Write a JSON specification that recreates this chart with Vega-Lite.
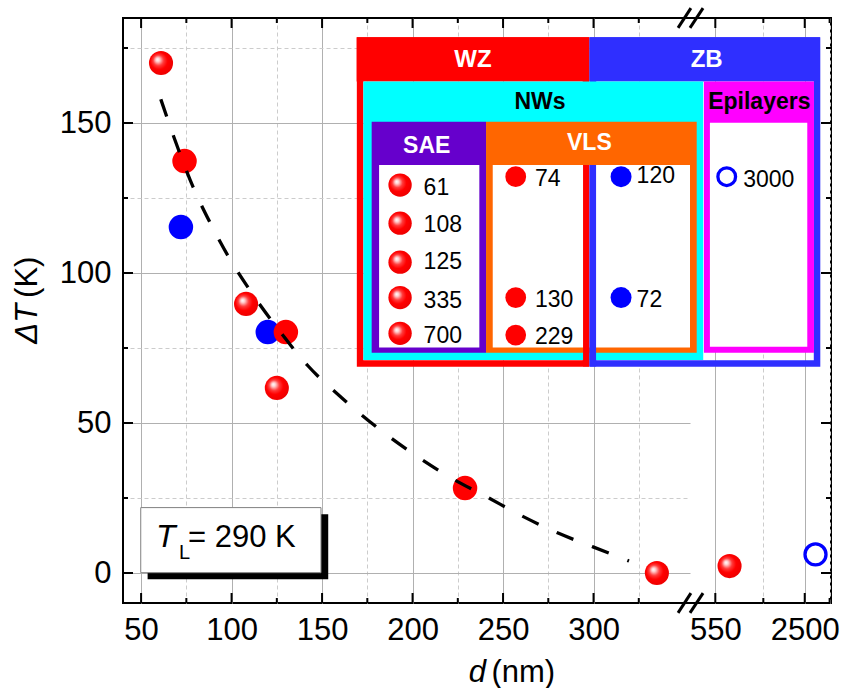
{
  "$schema": "https://vega.github.io/schema/vega-lite/v6.json",
  "width": 708,
  "height": 585,
  "autosize": "none",
  "padding": {"left": 123, "top": 18, "right": 12, "bottom": 85},
  "background": "white",
  "config": {
    "font": "Liberation Sans",
    "view": {"stroke": "#000000", "strokeWidth": 2},
    "axis": {"domain": false, "ticks": false, "labelFont": "Liberation Sans", "labelFontSize": 31, "labelColor": "#000000", "labelFlush": false, "labelOverlap": false, "gridWidth": 1}
  },
  "datasets": {
    "points": [
      {"d": 61, "dT": 170, "phase": "WZ", "method": "SAE"},
      {"d": 108, "dT": 89.7, "phase": "WZ", "method": "SAE"},
      {"d": 125, "dT": 61.7, "phase": "WZ", "method": "SAE"},
      {"d": 335, "dT": 0, "phase": "WZ", "method": "SAE"},
      {"d": 700, "dT": 2.3, "phase": "WZ", "method": "SAE"},
      {"d": 74, "dT": 137.3, "phase": "WZ", "method": "VLS"},
      {"d": 130, "dT": 80.3, "phase": "WZ", "method": "VLS"},
      {"d": 229, "dT": 28.3, "phase": "WZ", "method": "VLS"},
      {"d": 120, "dT": 80.3, "phase": "ZB", "method": "VLS"},
      {"d": 72, "dT": 115.3, "phase": "ZB", "method": "VLS"},
      {"d": 3000, "dT": 6.2, "phase": "ZB", "method": "Epilayer"}
    ],
    "curve": [
      {"d": 60.9, "dT": 157.9}, {"d": 67.7, "dT": 146}, {"d": 78.7, "dT": 128.7},
      {"d": 88.1, "dT": 116.8}, {"d": 98.8, "dT": 104.9}, {"d": 111.2, "dT": 93.3},
      {"d": 125.7, "dT": 81.3}, {"d": 142.3, "dT": 69}, {"d": 162.2, "dT": 57.7},
      {"d": 181.7, "dT": 47.9}, {"d": 201.4, "dT": 39.3}, {"d": 221.3, "dT": 31.7},
      {"d": 241.2, "dT": 25.3}, {"d": 260.5, "dT": 19}, {"d": 280.4, "dT": 13.3},
      {"d": 299.7, "dT": 8.7}, {"d": 319.6, "dT": 4}
    ],
    "xticks": [
      {"v": 50, "k": "major"}, {"v": 75, "k": "minor"}, {"v": 100, "k": "major"}, {"v": 125, "k": "minor"},
      {"v": 150, "k": "major"}, {"v": 175, "k": "minor"}, {"v": 200, "k": "major"}, {"v": 225, "k": "minor"},
      {"v": 250, "k": "major"}, {"v": 275, "k": "minor"}, {"v": 300, "k": "major"}, {"v": 325, "k": "minor"}
    ],
    "xticksR": [
      {"v": 550, "k": "major"}, {"v": 1240, "k": "minor"}, {"v": 2500, "k": "major"}, {"v": 3810, "k": "minor"}
    ],
    "yticks": [
      {"v": 0, "k": "major"}, {"v": 25, "k": "minor"}, {"v": 50, "k": "major"}, {"v": 75, "k": "minor"},
      {"v": 100, "k": "major"}, {"v": 125, "k": "minor"}, {"v": 150, "k": "major"}, {"v": 175, "k": "minor"}
    ],
    "frames": [
      {"part": "WZ", "x1": 171.0, "x2": 295.8, "y1": 177.5, "y2": 69.8},
      {"part": "ZB", "x1": 299.7, "x2": 423.5, "y1": 177.5, "y2": 69.8}
    ],
    "boxes": [
      {"part": "WZ head", "x1": 169.1, "x2": 297.7, "y1": 178.6, "y2": 163.8},
      {"part": "ZB head", "x1": 297.7, "x2": 425.1, "y1": 178.6, "y2": 163.8},
      {"part": "NWs", "x1": 172.8, "x2": 360.6, "y1": 163.8, "y2": 71},
      {"part": "Epilayers", "x1": 361.0, "x2": 421.8, "y1": 163.8, "y2": 73.4},
      {"part": "Epilayers body", "x1": 364.3, "x2": 418.1, "y1": 150.1, "y2": 75.4},
      {"part": "SAE", "x1": 177.4, "x2": 240.6, "y1": 150.4, "y2": 73.4},
      {"part": "SAE body", "x1": 181.5, "x2": 236.9, "y1": 136, "y2": 75.2},
      {"part": "VLS", "x1": 240.6, "x2": 357.0, "y1": 150.4, "y2": 73.4},
      {"part": "VLS body", "x1": 244.3, "x2": 353.3, "y1": 136, "y2": 75.2},
      {"part": "WZ edge", "x1": 294.2, "x2": 297.7, "y1": 136, "y2": 68.8},
      {"part": "ZB edge", "x1": 297.7, "x2": 301.4, "y1": 136, "y2": 68.8}
    ],
    "keys": [
      {"label": "61", "method": "SAE", "phase": "WZ", "x": 193.1, "y": 129.3, "lx": 206.1, "ly": 128.4},
      {"label": "108", "method": "SAE", "phase": "WZ", "x": 193.1, "y": 116.6, "lx": 206.1, "ly": 116.0},
      {"label": "125", "method": "SAE", "phase": "WZ", "x": 193.1, "y": 103.6, "lx": 206.1, "ly": 103.7},
      {"label": "335", "method": "SAE", "phase": "WZ", "x": 193.1, "y": 91.8, "lx": 206.1, "ly": 90.6},
      {"label": "700", "method": "SAE", "phase": "WZ", "x": 193.1, "y": 79.9, "lx": 206.1, "ly": 79.0},
      {"label": "74", "method": "VLS", "phase": "WZ", "x": 257.0, "y": 132.1, "lx": 267.6, "ly": 131.3},
      {"label": "130", "method": "VLS", "phase": "WZ", "x": 257.0, "y": 91.8, "lx": 267.6, "ly": 90.9},
      {"label": "229", "method": "VLS", "phase": "WZ", "x": 257.0, "y": 79.3, "lx": 267.6, "ly": 78.6},
      {"label": "120", "method": "VLS", "phase": "ZB", "x": 315.2, "y": 132.1, "lx": 323.8, "ly": 132.3},
      {"label": "72", "method": "VLS", "phase": "ZB", "x": 315.2, "y": 91.8, "lx": 323.8, "ly": 91.0},
      {"label": "3000", "method": "Epilayer", "phase": "ZB", "x": 373.6, "y": 132.1, "lx": 382.7, "ly": 131.0}
    ],
    "tl": [
      {"part": "shadow", "x1": 53.6, "x2": 153.4, "y1": 19.6, "y2": -2.1},
      {"part": "box", "x1": 49.8, "x2": 149.4, "y1": 21.8, "y2": 0.1}
    ],
    "breaks": [
      {"x1": 346.7, "x2": 353.8, "y1": -13.3, "y2": -6.7},
      {"x1": 353.3, "x2": 360.5, "y1": -13.3, "y2": -6.7},
      {"x1": 346.7, "x2": 353.8, "y1": 181.7, "y2": 188.3},
      {"x1": 353.3, "x2": 360.5, "y1": 181.7, "y2": 188.3}
    ]
  },
  "resolve": {"scale": {"x": "independent", "y": "independent"}},
  "layer": [
    {
      "data": {"name": "xticks"},
      "transform": [{"filter": "datum.k == 'major'"}],
      "mark": {"type": "rule", "color": "#000000", "strokeWidth": 2, "y2Offset": -10},
      "encoding": {
        "x": {"field": "v", "type": "quantitative", "scale": {"type": "linear", "domain": [40, 353.3], "range": [0, 567], "nice": false, "zero": false},
          "axis": {"orient": "bottom", "title": null, "values": [50, 100, 150, 200, 250, 300], "labelPadding": 12, "grid": true, "gridColor": "#b0b0b0"}},
        "y": {"datum": -10, "type": "quantitative", "scale": {"type": "linear", "domain": [-10, 185], "nice": false, "zero": false}, "axis": null},
        "y2": {"datum": -10}
      }
    },
    {
      "data": {"name": "xticks"},
      "transform": [{"filter": "datum.k == 'minor'"}],
      "mark": {"type": "rule", "color": "#000000", "strokeWidth": 2, "y2Offset": -5},
      "encoding": {
        "x": {"field": "v", "type": "quantitative", "scale": {"type": "linear", "domain": [40, 353.3], "range": [0, 567], "nice": false, "zero": false},
          "axis": {"orient": "bottom", "title": null, "labels": false, "values": [75, 125, 175, 225, 275, 325], "grid": true, "gridColor": "#cccccc", "gridDash": [4, 3]}},
        "y": {"datum": -10, "type": "quantitative", "scale": {"type": "linear", "domain": [-10, 185], "nice": false, "zero": false}, "axis": null},
        "y2": {"datum": -10}
      }
    },
    {
      "data": {"name": "xticks"},
      "transform": [{"filter": "datum.k == 'major'"}],
      "mark": {"type": "rule", "color": "#000000", "strokeWidth": 2, "y2Offset": 10},
      "encoding": {
        "x": {"field": "v", "type": "quantitative", "scale": {"type": "linear", "domain": [40, 353.3], "range": [0, 567], "nice": false, "zero": false}, "axis": null},
        "y": {"datum": 185, "type": "quantitative", "scale": {"type": "linear", "domain": [-10, 185], "nice": false, "zero": false}, "axis": null},
        "y2": {"datum": 185}
      }
    },
    {
      "data": {"name": "xticks"},
      "transform": [{"filter": "datum.k == 'minor'"}],
      "mark": {"type": "rule", "color": "#000000", "strokeWidth": 2, "y2Offset": 5},
      "encoding": {
        "x": {"field": "v", "type": "quantitative", "scale": {"type": "linear", "domain": [40, 353.3], "range": [0, 567], "nice": false, "zero": false}, "axis": null},
        "y": {"datum": 185, "type": "quantitative", "scale": {"type": "linear", "domain": [-10, 185], "nice": false, "zero": false}, "axis": null},
        "y2": {"datum": 185}
      }
    },
    {
      "data": {"name": "xticksR"},
      "transform": [{"filter": "datum.k == 'major'"}],
      "mark": {"type": "rule", "color": "#000000", "strokeWidth": 2, "y2Offset": -10},
      "encoding": {
        "x": {"field": "v", "type": "quantitative", "scale": {"type": "log", "domain": [358.3, 3900], "range": [567, 708], "nice": false},
          "axis": {"orient": "bottom", "title": null, "values": [550, 2500], "format": "d", "labelPadding": 12, "grid": true, "gridColor": "#b0b0b0"}},
        "y": {"datum": -10, "type": "quantitative", "scale": {"type": "linear", "domain": [-10, 185], "nice": false, "zero": false}, "axis": null},
        "y2": {"datum": -10}
      }
    },
    {
      "data": {"name": "xticksR"},
      "transform": [{"filter": "datum.k == 'minor'"}],
      "mark": {"type": "rule", "color": "#000000", "strokeWidth": 2, "y2Offset": -5},
      "encoding": {
        "x": {"field": "v", "type": "quantitative", "scale": {"type": "log", "domain": [358.3, 3900], "range": [567, 708], "nice": false},
          "axis": {"orient": "bottom", "title": null, "labels": false, "values": [1240, 3810], "grid": true, "gridColor": "#cccccc", "gridDash": [4, 3]}},
        "y": {"datum": -10, "type": "quantitative", "scale": {"type": "linear", "domain": [-10, 185], "nice": false, "zero": false}, "axis": null},
        "y2": {"datum": -10}
      }
    },
    {
      "data": {"name": "xticksR"},
      "transform": [{"filter": "datum.k == 'major'"}],
      "mark": {"type": "rule", "color": "#000000", "strokeWidth": 2, "y2Offset": 10},
      "encoding": {
        "x": {"field": "v", "type": "quantitative", "scale": {"type": "log", "domain": [358.3, 3900], "range": [567, 708], "nice": false}, "axis": null},
        "y": {"datum": 185, "type": "quantitative", "scale": {"type": "linear", "domain": [-10, 185], "nice": false, "zero": false}, "axis": null},
        "y2": {"datum": 185}
      }
    },
    {
      "data": {"name": "xticksR"},
      "transform": [{"filter": "datum.k == 'minor'"}],
      "mark": {"type": "rule", "color": "#000000", "strokeWidth": 2, "y2Offset": 5},
      "encoding": {
        "x": {"field": "v", "type": "quantitative", "scale": {"type": "log", "domain": [358.3, 3900], "range": [567, 708], "nice": false}, "axis": null},
        "y": {"datum": 185, "type": "quantitative", "scale": {"type": "linear", "domain": [-10, 185], "nice": false, "zero": false}, "axis": null},
        "y2": {"datum": 185}
      }
    },
    {
      "data": {"name": "yticks"},
      "transform": [{"filter": "datum.k == 'major'"}],
      "mark": {"type": "rule", "color": "#000000", "strokeWidth": 2, "x2Offset": 10},
      "encoding": {
        "y": {"field": "v", "type": "quantitative", "scale": {"type": "linear", "domain": [-10, 185], "nice": false, "zero": false},
          "axis": {"orient": "left", "title": null, "values": [0, 50, 100, 150], "labelPadding": 12, "grid": true, "gridColor": "#b0b0b0"}},
        "x": {"datum": 40, "type": "quantitative", "scale": {"type": "linear", "domain": [40, 353.3], "range": [0, 567], "nice": false, "zero": false}, "axis": null},
        "x2": {"datum": 40}
      }
    },
    {
      "data": {"name": "yticks"},
      "transform": [{"filter": "datum.k == 'minor'"}],
      "mark": {"type": "rule", "color": "#000000", "strokeWidth": 2, "x2Offset": 5},
      "encoding": {
        "y": {"field": "v", "type": "quantitative", "scale": {"type": "linear", "domain": [-10, 185], "nice": false, "zero": false},
          "axis": {"orient": "left", "title": null, "labels": false, "values": [25, 75, 125, 175], "grid": true, "gridColor": "#cccccc", "gridDash": [4, 3]}},
        "x": {"datum": 40, "type": "quantitative", "scale": {"type": "linear", "domain": [40, 353.3], "range": [0, 567], "nice": false, "zero": false}, "axis": null},
        "x2": {"datum": 40}
      }
    },
    {
      "data": {"name": "yticks"},
      "transform": [{"filter": "datum.k == 'major'"}],
      "mark": {"type": "rule", "color": "#000000", "strokeWidth": 2, "x2Offset": -10},
      "encoding": {
        "y": {"field": "v", "type": "quantitative", "scale": {"type": "linear", "domain": [-10, 185], "nice": false, "zero": false}, "axis": null},
        "x": {"datum": 3900, "type": "quantitative", "scale": {"type": "log", "domain": [358.3, 3900], "range": [567, 708], "nice": false}, "axis": null},
        "x2": {"datum": 3900}
      }
    },
    {
      "data": {"name": "yticks"},
      "transform": [{"filter": "datum.k == 'minor'"}],
      "mark": {"type": "rule", "color": "#000000", "strokeWidth": 2, "x2Offset": -5},
      "encoding": {
        "y": {"field": "v", "type": "quantitative", "scale": {"type": "linear", "domain": [-10, 185], "nice": false, "zero": false}, "axis": null},
        "x": {"datum": 3900, "type": "quantitative", "scale": {"type": "log", "domain": [358.3, 3900], "range": [567, 708], "nice": false}, "axis": null},
        "x2": {"datum": 3900}
      }
    },
    {
      "data": {"name": "tl"},
      "transform": [{"filter": "datum.part == 'shadow'"}],
      "mark": {"type": "rect", "fill": "#000000"},
      "encoding": {
        "x": {"field": "x1", "type": "quantitative", "scale": {"type": "linear", "domain": [40, 353.3], "range": [0, 567], "nice": false, "zero": false}, "axis": null},
        "x2": {"field": "x2"},
        "y": {"field": "y1", "type": "quantitative", "scale": {"type": "linear", "domain": [-10, 185], "nice": false, "zero": false}, "axis": null},
        "y2": {"field": "y2"}
      }
    },
    {
      "data": {"name": "tl"},
      "transform": [{"filter": "datum.part == 'box'"}],
      "mark": {"type": "rect", "fill": "#ffffff", "stroke": "#808080", "strokeWidth": 1},
      "encoding": {
        "x": {"field": "x1", "type": "quantitative", "scale": {"type": "linear", "domain": [40, 353.3], "range": [0, 567], "nice": false, "zero": false}, "axis": null},
        "x2": {"field": "x2"},
        "y": {"field": "y1", "type": "quantitative", "scale": {"type": "linear", "domain": [-10, 185], "nice": false, "zero": false}, "axis": null},
        "y2": {"field": "y2"}
      }
    },
    {
      "data": {"name": "frames"},
      "mark": {"type": "rect", "filled": false, "strokeWidth": 6.5},
      "encoding": {
        "x": {"field": "x1", "type": "quantitative", "scale": {"type": "linear", "domain": [40, 353.3], "range": [0, 567], "nice": false, "zero": false}, "axis": null},
        "x2": {"field": "x2"},
        "y": {"field": "y1", "type": "quantitative", "scale": {"type": "linear", "domain": [-10, 185], "nice": false, "zero": false}, "axis": null},
        "y2": {"field": "y2"},
        "stroke": {"field": "part", "type": "nominal", "legend": null, "scale": {"domain": ["WZ", "ZB"], "range": ["#ff0000", "#2f2fff"]}}
      }
    },
    {
      "data": {"name": "boxes"},
      "mark": {"type": "rect", "stroke": null},
      "encoding": {
        "x": {"field": "x1", "type": "quantitative", "scale": {"type": "linear", "domain": [40, 353.3], "range": [0, 567], "nice": false, "zero": false}, "axis": null},
        "x2": {"field": "x2"},
        "y": {"field": "y1", "type": "quantitative", "scale": {"type": "linear", "domain": [-10, 185], "nice": false, "zero": false}, "axis": null},
        "y2": {"field": "y2"},
        "fill": {"field": "part", "type": "nominal", "legend": null,
          "scale": {"domain": ["WZ head", "ZB head", "NWs", "Epilayers", "Epilayers body", "SAE", "SAE body", "VLS", "VLS body", "WZ edge", "ZB edge"],
            "range": ["#ff0000", "#2f2fff", "#00ffff", "#ff00ff", "#ffffff", "#6600cc", "#ffffff", "#ff6600", "#ffffff", "#ff0000", "#2f2fff"]}}
      }
    },
    {
      "data": {"values": [{"text": "WZ", "x": 233.4, "y": 171.1}, {"text": "ZB", "x": 362.5, "y": 171.1}]},
      "mark": {"type": "text", "font": "Liberation Sans", "fontWeight": "bold", "fontSize": 24, "color": "#ffffff", "align": "center", "baseline": "middle"},
      "encoding": {
        "x": {"field": "x", "type": "quantitative", "scale": {"type": "linear", "domain": [40, 353.3], "range": [0, 567], "nice": false, "zero": false}, "axis": null},
        "y": {"field": "y", "type": "quantitative", "scale": {"type": "linear", "domain": [-10, 185], "nice": false, "zero": false}, "axis": null},
        "text": {"field": "text"}
      }
    },
    {
      "data": {"values": [{"text": "NWs", "x": 270.4, "y": 156.9}, {"text": "Epilayers", "x": 391.6, "y": 156.9}]},
      "mark": {"type": "text", "font": "Liberation Sans", "fontWeight": "bold", "fontSize": 23, "color": "#000000", "align": "center", "baseline": "middle"},
      "encoding": {
        "x": {"field": "x", "type": "quantitative", "scale": {"type": "linear", "domain": [40, 353.3], "range": [0, 567], "nice": false, "zero": false}, "axis": null},
        "y": {"field": "y", "type": "quantitative", "scale": {"type": "linear", "domain": [-10, 185], "nice": false, "zero": false}, "axis": null},
        "text": {"field": "text"}
      }
    },
    {
      "data": {"values": [{"text": "SAE", "x": 207.8, "y": 142.5}, {"text": "VLS", "x": 297.7, "y": 143.3}]},
      "mark": {"type": "text", "font": "Liberation Sans", "fontWeight": "bold", "fontSize": 23, "color": "#ffffff", "align": "center", "baseline": "middle"},
      "encoding": {
        "x": {"field": "x", "type": "quantitative", "scale": {"type": "linear", "domain": [40, 353.3], "range": [0, 567], "nice": false, "zero": false}, "axis": null},
        "y": {"field": "y", "type": "quantitative", "scale": {"type": "linear", "domain": [-10, 185], "nice": false, "zero": false}, "axis": null},
        "text": {"field": "text"}
      }
    },
    {
      "data": {"name": "keys"},
      "transform": [{"filter": "datum.method == 'SAE'"}],
      "mark": {"type": "circle", "size": 545, "opacity": 1, "strokeWidth": 0,
        "fill": {"gradient": "radial", "x1": 0.35, "y1": 0.35, "r1": 0, "x2": 0.45, "y2": 0.45, "r2": 0.55,
          "stops": [{"offset": 0, "color": "#ffffff"}, {"offset": 0.15, "color": "#ffd0d0"}, {"offset": 0.4, "color": "#ff3a3a"}, {"offset": 0.65, "color": "#ff0000"}, {"offset": 1, "color": "#ee0000"}]}},
      "encoding": {
        "x": {"field": "x", "type": "quantitative", "scale": {"type": "linear", "domain": [40, 353.3], "range": [0, 567], "nice": false, "zero": false}, "axis": null},
        "y": {"field": "y", "type": "quantitative", "scale": {"type": "linear", "domain": [-10, 185], "nice": false, "zero": false}, "axis": null}
      }
    },
    {
      "data": {"name": "keys"},
      "transform": [{"filter": "datum.method == 'VLS' && datum.phase == 'WZ'"}],
      "mark": {"type": "circle", "size": 430, "opacity": 1, "color": "#ff0000"},
      "encoding": {
        "x": {"field": "x", "type": "quantitative", "scale": {"type": "linear", "domain": [40, 353.3], "range": [0, 567], "nice": false, "zero": false}, "axis": null},
        "y": {"field": "y", "type": "quantitative", "scale": {"type": "linear", "domain": [-10, 185], "nice": false, "zero": false}, "axis": null}
      }
    },
    {
      "data": {"name": "keys"},
      "transform": [{"filter": "datum.method == 'VLS' && datum.phase == 'ZB'"}],
      "mark": {"type": "circle", "size": 440, "opacity": 1, "color": "#0000ff"},
      "encoding": {
        "x": {"field": "x", "type": "quantitative", "scale": {"type": "linear", "domain": [40, 353.3], "range": [0, 567], "nice": false, "zero": false}, "axis": null},
        "y": {"field": "y", "type": "quantitative", "scale": {"type": "linear", "domain": [-10, 185], "nice": false, "zero": false}, "axis": null}
      }
    },
    {
      "data": {"name": "keys"},
      "transform": [{"filter": "datum.method == 'Epilayer'"}],
      "mark": {"type": "point", "shape": "circle", "filled": false, "size": 313, "opacity": 1, "stroke": "#0000ff", "strokeWidth": 3.3},
      "encoding": {
        "x": {"field": "x", "type": "quantitative", "scale": {"type": "linear", "domain": [40, 353.3], "range": [0, 567], "nice": false, "zero": false}, "axis": null},
        "y": {"field": "y", "type": "quantitative", "scale": {"type": "linear", "domain": [-10, 185], "nice": false, "zero": false}, "axis": null}
      }
    },
    {
      "data": {"name": "keys"},
      "mark": {"type": "text", "font": "Liberation Sans", "fontSize": 23, "color": "#000000", "align": "left", "baseline": "middle"},
      "encoding": {
        "x": {"field": "lx", "type": "quantitative", "scale": {"type": "linear", "domain": [40, 353.3], "range": [0, 567], "nice": false, "zero": false}, "axis": null},
        "y": {"field": "ly", "type": "quantitative", "scale": {"type": "linear", "domain": [-10, 185], "nice": false, "zero": false}, "axis": null},
        "text": {"field": "label"}
      }
    },
    {
      "data": {"name": "points"},
      "transform": [{"filter": "datum.method == 'VLS' && datum.phase == 'ZB'"}],
      "mark": {"type": "circle", "size": 600, "opacity": 1, "color": "#0000ff"},
      "encoding": {
        "x": {"field": "d", "type": "quantitative", "scale": {"type": "linear", "domain": [40, 353.3], "range": [0, 567], "nice": false, "zero": false}, "axis": null},
        "y": {"field": "dT", "type": "quantitative", "scale": {"type": "linear", "domain": [-10, 185], "nice": false, "zero": false}, "axis": null}
      }
    },
    {
      "data": {"name": "points"},
      "transform": [{"filter": "datum.method == 'SAE' && datum.d < 400"}],
      "mark": {"type": "circle", "size": 580, "opacity": 1, "strokeWidth": 0,
        "fill": {"gradient": "radial", "x1": 0.35, "y1": 0.35, "r1": 0, "x2": 0.45, "y2": 0.45, "r2": 0.55,
          "stops": [{"offset": 0, "color": "#ffffff"}, {"offset": 0.15, "color": "#ffd0d0"}, {"offset": 0.4, "color": "#ff3a3a"}, {"offset": 0.65, "color": "#ff0000"}, {"offset": 1, "color": "#ee0000"}]}},
      "encoding": {
        "x": {"field": "d", "type": "quantitative", "scale": {"type": "linear", "domain": [40, 353.3], "range": [0, 567], "nice": false, "zero": false}, "axis": null},
        "y": {"field": "dT", "type": "quantitative", "scale": {"type": "linear", "domain": [-10, 185], "nice": false, "zero": false}, "axis": null}
      }
    },
    {
      "data": {"name": "points"},
      "transform": [{"filter": "datum.method == 'VLS' && datum.phase == 'WZ'"}],
      "mark": {"type": "circle", "size": 600, "opacity": 1, "color": "#ff0000"},
      "encoding": {
        "x": {"field": "d", "type": "quantitative", "scale": {"type": "linear", "domain": [40, 353.3], "range": [0, 567], "nice": false, "zero": false}, "axis": null},
        "y": {"field": "dT", "type": "quantitative", "scale": {"type": "linear", "domain": [-10, 185], "nice": false, "zero": false}, "axis": null}
      }
    },
    {
      "data": {"name": "points"},
      "transform": [{"filter": "datum.method == 'SAE' && datum.d >= 400"}],
      "mark": {"type": "circle", "size": 580, "opacity": 1, "strokeWidth": 0,
        "fill": {"gradient": "radial", "x1": 0.35, "y1": 0.35, "r1": 0, "x2": 0.45, "y2": 0.45, "r2": 0.55,
          "stops": [{"offset": 0, "color": "#ffffff"}, {"offset": 0.15, "color": "#ffd0d0"}, {"offset": 0.4, "color": "#ff3a3a"}, {"offset": 0.65, "color": "#ff0000"}, {"offset": 1, "color": "#ee0000"}]}},
      "encoding": {
        "x": {"field": "d", "type": "quantitative", "scale": {"type": "log", "domain": [358.3, 3900], "range": [567, 708], "nice": false}, "axis": null},
        "y": {"field": "dT", "type": "quantitative", "scale": {"type": "linear", "domain": [-10, 185], "nice": false, "zero": false}, "axis": null}
      }
    },
    {
      "data": {"name": "points"},
      "transform": [{"filter": "datum.method == 'Epilayer'"}],
      "mark": {"type": "point", "shape": "circle", "filled": false, "size": 441, "opacity": 1, "stroke": "#0000ff", "strokeWidth": 3.3},
      "encoding": {
        "x": {"field": "d", "type": "quantitative", "scale": {"type": "log", "domain": [358.3, 3900], "range": [567, 708], "nice": false}, "axis": null},
        "y": {"field": "dT", "type": "quantitative", "scale": {"type": "linear", "domain": [-10, 185], "nice": false, "zero": false}, "axis": null}
      }
    },
    {
      "data": {"name": "curve"},
      "mark": {"type": "line", "color": "#000000", "strokeWidth": 3.3, "strokeDash": [18, 20], "interpolate": "monotone"},
      "encoding": {
        "x": {"field": "d", "type": "quantitative", "scale": {"type": "linear", "domain": [40, 353.3], "range": [0, 567], "nice": false, "zero": false}, "axis": null},
        "y": {"field": "dT", "type": "quantitative", "scale": {"type": "linear", "domain": [-10, 185], "nice": false, "zero": false}, "axis": null}
      }
    },
    {
      "data": {"name": "breaks"},
      "mark": {"type": "rule", "color": "#000000", "strokeWidth": 3},
      "encoding": {
        "x": {"field": "x1", "type": "quantitative", "scale": {"type": "linear", "domain": [40, 353.3], "range": [0, 567], "nice": false, "zero": false}, "axis": null},
        "x2": {"field": "x2"},
        "y": {"field": "y1", "type": "quantitative", "scale": {"type": "linear", "domain": [-10, 185], "nice": false, "zero": false}, "axis": null},
        "y2": {"field": "y2"}
      }
    },
    {
      "data": {"values": [{"text": "T", "x": 58.2, "y": 8.8}]},
      "mark": {"type": "text", "font": "Liberation Sans", "fontSize": 32, "fontStyle": "italic", "color": "#000000", "align": "left", "baseline": "alphabetic"},
      "encoding": {
        "x": {"field": "x", "type": "quantitative", "scale": {"type": "linear", "domain": [40, 353.3], "range": [0, 567], "nice": false, "zero": false}, "axis": null},
        "y": {"field": "y", "type": "quantitative", "scale": {"type": "linear", "domain": [-10, 185], "nice": false, "zero": false}, "axis": null},
        "text": {"field": "text"}
      }
    },
    {
      "data": {"values": [{"text": "L", "x": 70.9, "y": 4.6}]},
      "mark": {"type": "text", "font": "Liberation Sans", "fontSize": 20, "color": "#000000", "align": "left", "baseline": "alphabetic"},
      "encoding": {
        "x": {"field": "x", "type": "quantitative", "scale": {"type": "linear", "domain": [40, 353.3], "range": [0, 567], "nice": false, "zero": false}, "axis": null},
        "y": {"field": "y", "type": "quantitative", "scale": {"type": "linear", "domain": [-10, 185], "nice": false, "zero": false}, "axis": null},
        "text": {"field": "text"}
      }
    },
    {
      "data": {"values": [{"text": "= 290 K", "x": 75.9, "y": 8.8}, {"text": "(nm)", "x": 243.6, "y": -36.2}]},
      "mark": {"type": "text", "font": "Liberation Sans", "fontSize": 31, "color": "#000000", "align": "left", "baseline": "alphabetic"},
      "encoding": {
        "x": {"field": "x", "type": "quantitative", "scale": {"type": "linear", "domain": [40, 353.3], "range": [0, 567], "nice": false, "zero": false}, "axis": null},
        "y": {"field": "y", "type": "quantitative", "scale": {"type": "linear", "domain": [-10, 185], "nice": false, "zero": false}, "axis": null},
        "text": {"field": "text"}
      }
    },
    {
      "data": {"values": [{"text": "d", "x": 240.6, "y": -36.2}]},
      "mark": {"type": "text", "font": "Liberation Sans", "fontSize": 31, "fontStyle": "italic", "color": "#000000", "align": "right", "baseline": "alphabetic"},
      "encoding": {
        "x": {"field": "x", "type": "quantitative", "scale": {"type": "linear", "domain": [40, 353.3], "range": [0, 567], "nice": false, "zero": false}, "axis": null},
        "y": {"field": "y", "type": "quantitative", "scale": {"type": "linear", "domain": [-10, 185], "nice": false, "zero": false}, "axis": null},
        "text": {"field": "text"}
      }
    },
    {
      "data": {"values": [{"text": "ΔT", "x": -7.7, "y": 89.7}]},
      "mark": {"type": "text", "font": "Liberation Sans", "fontSize": 31, "fontStyle": "italic", "angle": 270, "color": "#000000", "align": "right", "baseline": "alphabetic"},
      "encoding": {
        "x": {"field": "x", "type": "quantitative", "scale": {"type": "linear", "domain": [40, 353.3], "range": [0, 567], "nice": false, "zero": false}, "axis": null},
        "y": {"field": "y", "type": "quantitative", "scale": {"type": "linear", "domain": [-10, 185], "nice": false, "zero": false}, "axis": null},
        "text": {"field": "text"}
      }
    },
    {
      "data": {"values": [{"text": "(K)", "x": -7.7, "y": 91.7}]},
      "mark": {"type": "text", "font": "Liberation Sans", "fontSize": 31, "angle": 270, "color": "#000000", "align": "left", "baseline": "alphabetic"},
      "encoding": {
        "x": {"field": "x", "type": "quantitative", "scale": {"type": "linear", "domain": [40, 353.3], "range": [0, 567], "nice": false, "zero": false}, "axis": null},
        "y": {"field": "y", "type": "quantitative", "scale": {"type": "linear", "domain": [-10, 185], "nice": false, "zero": false}, "axis": null},
        "text": {"field": "text"}
      }
    }
  ]
}
